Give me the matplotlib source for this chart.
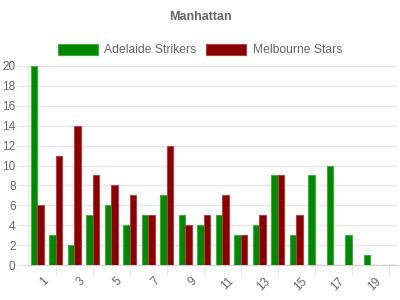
import numpy as np
import matplotlib.pyplot as plt
import matplotlib.transforms as mtransforms

overs = list(range(1, 21))
adelaide = [20, 3, 2, 5, 6, 4, 5, 7, 5, 4, 5, 3, 4, 9, 3, 9, 10, 3, 1, 0]
melbourne = [6, 11, 14, 9, 8, 7, 5, 12, 4, 5, 7, 3, 5, 9, 5, 0, 0, 0, 0, 0]
legend = ['Adelaide Strikers', 'Melbourne Stars']

colors = ['#008800', '#880000']
edges = ['#44aa44', '#aa4444']
txt = '#666666'
grid = '#e6e6e6'

plt.rcParams['font.family'] = ['Liberation Sans', 'DejaVu Sans']

fig = plt.figure(figsize=(4, 3), dpi=100)
ax = fig.add_axes([28 / 400, 35 / 300, 370 / 400, 199 / 300])

x = np.arange(len(overs))
w = 0.36
ax.bar(x - w / 2, adelaide, width=w, color=colors[0], edgecolor=edges[0], linewidth=0.8, label=legend[0], zorder=3)
ax.bar(x + w / 2, melbourne, width=w, color=colors[1], edgecolor=edges[1], linewidth=0.8, label=legend[1], zorder=3)

ax.set_xlim(-0.5, len(overs) - 0.5)
ax.set_ylim(0, 20)
ax.set_yticks(range(0, 21, 2))
ax.yaxis.grid(True, color=grid, linewidth=1, zorder=0)
ax.tick_params(axis='y', length=8, color=grid, labelsize=8.5, labelcolor=txt, pad=1)

# tick marks between labels, labels on odd overs
ax.set_xticks(x[1::2])
ax.set_xticklabels([])
ax.tick_params(axis='x', length=7, color=grid, direction='out')
off = mtransforms.ScaledTranslation(5 / 100, -10 / 100, fig.dpi_scale_trans)
for xi, o in zip(x[::2], overs[::2]):
    ax.text(xi, 0, str(o), rotation=45, ha='right', va='top', rotation_mode='anchor',
            fontsize=8.5, color=txt, transform=ax.get_xaxis_transform() + off)

for s in ['top', 'right']:
    ax.spines[s].set_visible(False)
ax.spines['left'].set_color(grid)
ax.spines['bottom'].set_color('#d0d0d0')

fig.text(0.5, 1 - 17 / 300, 'Manhattan', ha='center', va='center', fontsize=9,
         fontweight='bold', color=txt)
fig.legend(loc='center', bbox_to_anchor=(0.5, 1 - 50 / 300), ncol=2, frameon=False,
           fontsize=8.7, labelcolor=txt, handlelength=3.3, handleheight=1.0,
           columnspacing=0.8, handletextpad=0.55)

fig.savefig('out.png', dpi=100)
